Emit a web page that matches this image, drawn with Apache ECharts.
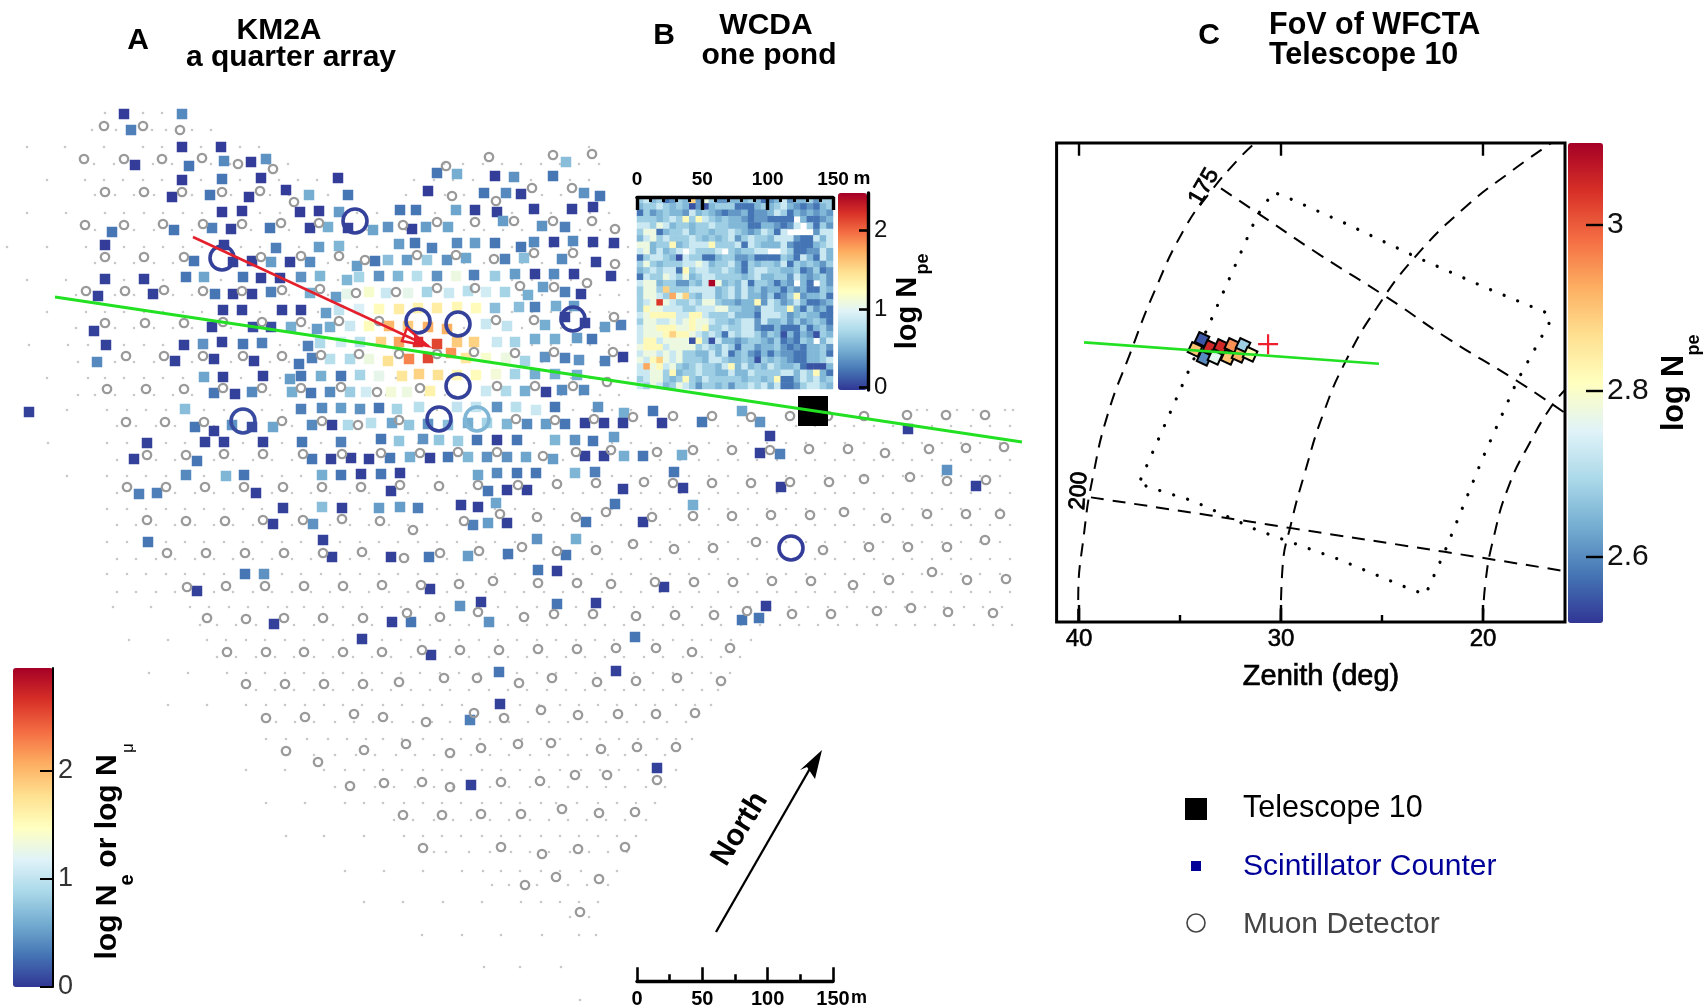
<!DOCTYPE html>
<html><head><meta charset="utf-8">
<script src="https://cdn.jsdelivr.net/npm/echarts@6/dist/echarts.min.js"></script>
<style>html,body{margin:0;padding:0;background:#fff}#c{width:1708px;height:1008px}</style></head>
<body><div id="c"></div>
<script>
// Map of the KM2A quarter array, in map units.
const northOdd=[95,115,134,154,173,192,212,231,251,270,289,309,328,348,367,386,406,425,445,464,484,503,522,542,561,580,600,619];
const northEven=[105,124,144,163,183,202,221,241,260,280,299,318,338,357,377,396,415,435,454,474,493,512,532,551,571,590,609,628];
const midEven=[107,127,146,166,185,204,224,243,262,282,301,321,340,360,379,398,418,437,457,476,495,515,534,554,573,592,612,631,651,670,689,709,728,748,767,786,806,825,845,864,883,903,922,942,961,980,1000];
const midOdd=[117,136,156,175,195,214,233,253,272,292,311,330,350,369,389,408,427,447,466,486,505,524,544,563,583,602,621,641,660,680,699,718,738,757,777,796,815,835,854,874,893,912,932,951,971,990,1010];
const idleRows=[
[113,[105,143,162]],
[130,[92,116,152,166,192,211]],
[147,[27,65,104,143,162,182,201,220,240,259,589]],
[164,[94,114,133,153,172,191,211,230,250,269,288,444,463,483,502,521,541,560,579,599]],
[180,[47,85,104,123,143,162,182,201,220,240,259,279,298,317,337,414,434,453,473,492,511,531,550,570,589]],
[195,[95,115,134,154,173,192,212,231,251,270,289,309,328,348,406,425,445,464,484,503,522,542,561,580,600]],
[213,[27,66,105,124,144,163,183,202,221,241,260,280,299,318,338,357,377,396,415,435,454,474,493,512,532,551,571,590,609]],
[230,northOdd],[247,[7,47,86],northEven],[263,northOdd],[280,[27,66],northEven],[295,[76],northOdd],
[312,[47,86],northEven],[328,[76],northOdd],[345,[29,68,88],northEven],[362,[78],northOdd],[378,[47,88],northEven],
[395,[78],northOdd],
[410,[67,107,127,146,166,185,204,224,243,262,282,301,321,340,360,379,398,418,437,457,476,495,515,534,554,573,592,612,631,651,917,927,957,973,1005,1013]],
[426,midOdd],[443,[48],midEven],[460,midOdd],[476,[67],midEven],[493,midOdd],[509,midEven],[525,midOdd],[542,midEven],[559,midOdd],[574,midEven],[592,midOdd],
[607,[113,151,190,209,229,248,268,287,304,323,343,362,382,401,420,440,459,479,498,517,537,556,576,595,614,634,653,673,692,711,731,750,770,789,808,828,847,867,886,905,925,944,964,983,1002]],
[625,[200,217,236,256,275,294,314,333,353,372,391,411,430,450,469,489,508,527,547,566,585,605,624,644,663,683,702,721,741,760,780,799,818,838,857,877,896,915,935,954,974,993,1012]],
[640,[129,168,207,226,246,265,285,304,323,343,362,382,401,420,440,459,479,498,517,537,556,576,595,614,634,653,673,692,711,731,751]],
[657,[217,236,256,275,294,314,333,353,372,391,411,430,450,469,489,508,527,547,566,585,605,624,644,663,683,702,721,740]],
[673,[149,188,227,246,265,285,304,323,343,362,382,401,420,440,459,479,498,517,537,556,576,595,614,634,653,673,692,711,730]],
[690,[256,275,294,314,333,353,372,391,411,430,450,469,489,508,527,547,566,585,605,624,644,663,683,702,718]],
[705,[168,207,246,266,285,305,324,343,362,383,402,423,442,462,520,539,560,579,598,617,636,655,676,695,711]],
[722,[276,295,314,335,354,373,392,413,432,450,490,509,528,549,568,587,606,627,644,667,686]],
[739,[266,286,307,328,347,366,383,402,423,442,461,480,501,522,541,560,581,600,619,638,657,676,692]],
[755,[314,335,356,375,396,415,434,453,471,490,509,530,549,568,587,608,625,646,665]],
[770,[246,285,324,345,364,383,402,423,442,461,482,501,520,539,560,581,600,619,638,676]],
[787,[335,354,375,394,415,434,453,490,509,530,549,568,587,606,625,646,665]],
[803,[266,305,345,364,383,404,423,442,461,482,501,520,541,556,577,598,617,636,655]],
[820,[394,413,434,453,471,490,509,530,549,568,587,606,625,646]],
[836,[286,324,364,404,423,442,461,482,501,520,541,560,579,598,617,636]],
[852,[434,446,469,490,511,530,549,570,589,608,627]],
[871,[345,384,423,462,483,501,520,541,560,581,617]],
[885,[492,509,537,568,587,608]],
[902,[364,403,443,482,521,541,560,579,598]],
[917,[570,589]],
[935,[422,462,501,542,579,596]],
[967,[484,520,561]],
[1000,[580]]
];
const muonIdle=[[104,126],[143,126],[180,130],[84,159],[124,159],[162,159],[202,158],[238,164],[273,169],[446,166],[489,157],[553,155],[592,154],
[105,192],[144,192],[182,192],[222,192],[260,191],[294,202],[452,196],[496,201],[532,188],[572,188],
[85,225],[124,225],[163,224],[203,224],[242,224],[281,223],[319,223],[403,225],[437,222],[475,222],[514,221],[553,221],[592,221],[615,229],
[105,257],[144,257],[184,257],[261,257],[301,256],[339,256],[365,260],[417,255],[456,255],[494,259],[534,253],[573,253],[615,264],
[86,291],[125,291],[164,290],[203,291],[242,291],[282,290],[320,289],[356,293],[396,292],[437,288],[475,288],[520,286],[554,287],[587,283],
[105,323],[145,323],[184,323],[223,322],[262,322],[301,322],[339,321],[379,321],[496,320],[534,320],[614,317],
[126,356],[164,356],[203,356],[243,356],[282,356],[321,355],[359,354],[399,354],[437,354],[474,352],[515,353],[554,352],[613,352],
[107,389],[146,389],[184,389],[223,388],[262,388],[301,388],[341,387],[377,392],[420,388],[497,386],[535,386],[573,386],[607,382],
[126,422],[165,422],[204,422],[282,421],[322,421],[358,425],[399,420],[516,419],[555,420],[594,419],[633,417],[673,416],[712,416],[751,417],[790,416],[828,416],[864,416],[907,415],[946,415],[985,415],
[147,455],[186,455],[224,454],[263,454],[303,454],[342,454],[381,453],[420,453],[458,452],[497,452],[543,456],[576,452],[611,450],[657,452],[693,450],[732,450],[770,450],[809,449],[848,449],[885,453],[929,449],[966,448],[1004,447],
[127,487],[166,487],[205,487],[244,487],[283,487],[322,487],[361,487],[400,485],[439,486],[478,485],[518,485],[557,484],[596,483],[644,482],[673,483],[712,483],[751,483],[790,482],[829,482],[864,479],[910,477],[947,481],[986,480],
[147,520],[186,521],[225,521],[263,520],[303,520],[342,519],[380,521],[413,530],[464,521],[500,514],[537,517],[576,517],[606,512],[652,517],[693,516],[732,516],[771,515],[810,515],[844,512],[886,518],[927,514],[966,514],[1000,514],
[167,553],[206,553],[245,553],[284,553],[323,553],[362,552],[404,558],[440,553],[479,551],[522,547],[557,551],[596,550],[633,544],[674,549],[713,548],[756,542],[823,550],[869,547],[908,547],[947,547],[985,540],
[187,587],[226,586],[265,586],[304,586],[343,586],[382,585],[421,585],[459,584],[493,581],[538,583],[577,583],[611,584],[655,582],[694,582],[733,582],[772,581],[811,581],[853,585],[889,580],[932,572],[967,580],[1006,579],
[207,618],[246,619],[284,618],[323,618],[363,618],[407,613],[440,617],[478,612],[524,617],[554,614],[593,614],[636,616],[675,615],[714,615],[747,611],[792,614],[831,614],[877,611],[911,608],[948,612],[993,613],
[227,652],[266,652],[304,652],[343,652],[382,652],[422,650],[460,650],[499,650],[538,649],[577,649],[616,648],[656,648],[692,652],[730,648],
[246,684],[285,684],[324,684],[363,684],[399,682],[444,678],[477,678],[519,683],[552,678],[597,682],[636,681],[677,678],[721,681],
[266,718],[305,717],[354,714],[383,717],[426,722],[474,713],[504,718],[541,710],[578,715],[618,714],[656,714],[695,713],
[286,751],[318,762],[364,750],[406,744],[450,753],[481,748],[518,744],[551,743],[601,749],[637,747],[676,747],
[350,786],[384,783],[422,782],[450,787],[501,782],[540,781],[575,775],[607,775],[657,780],
[403,815],[442,815],[481,814],[521,814],[562,809],[599,813],[635,812],
[423,848],[501,847],[542,854],[578,849],[625,847],
[525,885],[556,877],[599,879],[580,912]];
const muonHits=[[222,258,.05],[355,221,.05],[418,321,.05],[458,324,.05],[573,319,.05],[458,386,.05],[243,421,.1],[439,419,.05],[477,419,.65],[791,548,.03]];
const scintHits=[[124,114,.03],[182,114,.4],[131,130,.35],[182,147,.03],[221,147,.03],[135,165,.03],[189,166,.3],[224,161,.4],[251,162,.03],[266,159,.45],
[182,180,.03],[222,179,.3],[261,178,.03],[338,178,.03],[437,173,.3],[457,174,.6],[495,176,.03],[514,177,.45],[553,176,.3],[566,162,.7],
[172,197,.03],[210,195,.3],[249,197,.03],[286,190,.03],[309,195,.6],[348,195,.3],[428,191,.03],[484,193,.3],[506,193,.4],[521,194,.05],[584,193,.45],[600,196,.3],
[222,212,.03],[242,211,.03],[300,212,.03],[319,211,.03],[339,212,.5],[400,210,.3],[416,210,.3],[456,210,.55],[475,210,.05],[497,212,.05],[534,209,.05],[572,209,.05],[593,207,.05],
[112,232,.3],[174,230,.3],[212,228,.35],[231,229,.05],[270,228,.3],[310,228,.05],[328,227,.6],[348,228,.05],[373,230,.55],[388,227,.45],[412,229,.05],[426,227,.5],[448,227,.55],[503,221,.5],[542,226,.45],[565,227,.35],
[105,245,.03],[224,245,.05],[276,248,.35],[319,247,.5],[339,246,.65],[399,244,.5],[415,243,.3],[432,248,.35],[457,243,.4],[475,243,.5],[495,243,.3],[521,247,.3],[534,242,.4],[554,242,.05],[573,241,.4],[593,242,.05],[614,243,.05],
[194,261,.3],[233,262,.05],[252,261,.05],[271,262,.5],[290,262,.05],[310,262,.4],[357,266,.5],[375,261,.3],[388,260,.7],[407,260,.5],[427,260,.8],[447,260,.45],[466,258,.55],[505,259,.35],[524,258,.7],[562,259,.4],[596,262,.05],
[105,279,.05],[144,279,.05],[186,277,.3],[204,277,.55],[243,277,.3],[261,278,.05],[280,278,.05],[301,277,.45],[320,276,.65],[347,280,.65],[359,277,.85],[379,276,.45],[398,276,.65],[417,276,.95],[437,276,.45],[456,276,1.3],[474,275,.35],[495,276,.8],[515,274,.5],[535,274,.05],[554,274,.4],[574,274,.05],[611,276,.05],
[98,296,.05],[153,294,.05],[215,294,.3],[233,294,.05],[252,294,.05],[271,292,.35],[310,293,.6],[336,297,.5],[347,294,1.25],[369,292,1.4],[386,293,1.05],[408,293,1.25],[427,292,.85],[449,293,1.05],[468,291,.95],[486,292,1.1],[505,292,.85],[528,295,.6],[543,287,.5],[565,292,.35],[581,294,.05],
[223,310,.05],[242,310,.05],[282,310,.05],[301,310,.05],[326,313,.5],[339,310,1],[359,309,1.15],[379,309,1.5],[399,309,1.65],[418,308,1.6],[437,308,1.65],[457,307,1.55],[476,308,1.5],[495,308,.7],[519,307,.7],[535,307,.35],[556,306,.6],[574,306,.5],
[94,331,.05],[212,327,.05],[253,327,.1],[271,327,.1],[291,327,.6],[317,329,.5],[330,327,.6],[350,326,1.05],[369,326,1.5],[389,326,2],[408,326,1.9],[428,327,2.05],[447,329,2.05],[486,324,1.05],[507,326,1],[545,325,.6],[565,317,.05],[585,323,.05],[605,327,.5],[621,325,.35],
[106,345,.05],[184,345,.05],[203,344,.45],[222,342,.05],[243,344,.3],[262,343,.35],[308,346,.35],[320,343,.9],[341,342,1.1],[360,342,.95],[381,342,1.85],[399,342,2.1],[418,342,2.65],[437,344,2.55],[457,342,1.9],[474,342,1.85],[497,342,1.05],[515,342,.85],[535,339,.6],[555,339,.6],[577,338,.5],[592,339,.3],
[97,362,.4],[175,361,.05],[214,359,.05],[254,361,.05],[299,364,.3],[312,358,.35],[330,359,.95],[350,359,.9],[369,359,1.3],[388,361,1.75],[409,359,2.25],[428,358,2.55],[451,353,2.2],[466,358,1.7],[486,358,1.4],[506,358,1.3],[525,361,.85],[545,357,.45],[565,358,.35],[579,360,.45],[605,361,.35],[623,357,.05],
[204,377,.55],[223,377,.05],[263,376,.05],[290,379,.5],[301,376,.3],[321,376,.6],[341,376,.3],[360,375,.85],[379,376,1.25],[402,376,1.7],[419,374,1.85],[438,375,1.75],[457,375,1.55],[476,375,1.5],[496,374,1.35],[515,374,.85],[535,374,.6],[555,374,.6],[577,375,.6],
[214,393,.3],[235,394,.05],[252,392,.4],[292,392,.6],[311,393,.3],[330,392,.4],[350,392,.8],[366,392,1.1],[391,392,1.35],[407,392,1.3],[430,391,1.6],[486,391,1.05],[506,391,.9],[525,391,.6],[546,392,.05],[562,390,.4],[584,390,.4],
[29,412,.05],[185,409,.7],[301,409,.35],[322,408,.4],[341,408,.5],[360,409,.45],[379,408,.3],[397,409,.85],[419,407,.95],[457,407,1],[476,407,1],[497,407,.45],[516,407,.95],[536,410,1.05],[555,407,.3],[598,407,.45],[624,413,.6],[653,411,.3],[742,411,.55],
[195,427,.3],[214,431,.05],[232,425,.45],[252,427,.1],[273,427,.55],[312,425,.4],[332,425,.05],[348,425,.9],[371,423,.95],[392,423,.55],[409,425,.75],[428,424,.45],[448,425,.7],[468,423,.6],[487,423,.85],[507,424,.65],[527,424,.4],[546,424,.5],[565,424,.3],[585,423,.05],[604,423,.05],[623,423,.05],[662,423,.05],[702,422,.3],[760,422,.45],[908,429,.05],
[147,443,.05],[205,442,.05],[224,442,.05],[263,442,.05],[302,442,.3],[341,442,.35],[381,439,.3],[399,441,.75],[423,439,.45],[439,440,.75],[458,441,.8],[477,440,.3],[497,440,.05],[517,440,.3],[555,440,.65],[575,440,.45],[593,441,.3],[614,437,.5],[770,436,.05],
[134,459,.05],[197,461,.3],[312,459,.3],[331,459,.05],[351,458,.05],[369,459,.05],[390,458,.3],[410,457,.6],[430,458,.05],[448,457,.3],[468,457,.65],[487,457,.45],[507,457,.45],[526,457,.55],[553,459,.5],[585,456,.05],[604,456,.05],[624,456,.6],[643,456,.3],[682,455,.6],[760,453,.05],[780,454,.35],
[186,475,.4],[226,476,.65],[244,475,.3],[322,475,.6],[341,475,.3],[361,474,.05],[381,474,.3],[400,473,.05],[478,475,.55],[497,473,.4],[517,473,.3],[536,473,.3],[575,473,.65],[595,472,.35],[674,472,.3],[947,470,.45],
[139,494,.35],[157,493,.35],[256,493,.05],[391,491,.05],[488,491,.3],[507,490,.05],[527,490,.05],[623,489,.05],[683,488,.05],[781,487,.05],[976,486,.05],
[283,508,.05],[322,507,.7],[342,508,.05],[379,508,.5],[400,507,.5],[418,508,.35],[461,505,.05],[478,507,.05],[496,503,.55],[615,504,.3],[693,505,.6],
[273,524,.05],[313,524,.45],[473,525,.35],[488,523,.5],[507,523,.05],[586,522,.3],[643,522,.05],
[148,542,.3],[323,540,.05],[537,539,.45],[576,539,.6],
[332,557,.05],[391,557,.05],[429,557,.3],[468,556,.5],[508,554,.3],[566,555,.3],
[245,574,.3],[264,574,.45],[538,570,.3],[557,571,.05],
[664,587,.05],[197,591,.05],[430,589,.05],
[460,606,.45],[481,602,.05],[557,604,.3],[596,603,.05],[766,606,.05],
[274,624,.05],[392,622,.05],[411,622,.3],[489,622,.45],[742,620,.3],[759,618,.3],
[362,639,.05],[635,637,.3],[431,655,.05],[499,672,.3],[616,671,.05],[500,704,.05],[470,720,.35],[657,768,.05],[471,785,.05]];
const telescopeSite=[[813,411]];
const showerAxis=[[55,297],[1022,442]];
const coreArrow=[[193,237],[428,346]];
const coreHeadOutline=[[428,346],[402,341],[407,328]];
const coreHeadFill=[[428,346],[414,335],[414,345]];
const northShaft=[[716,932],[812,765]];
const northHead=[[822,750],[800,770],[807,767],[815,779]];

// WCDA one pond: 30 x 30 cells, hexadecimal index into pondLevels (log Npe); '.' means no cell
const pondLevels=[.08,.22,.38,.53,.66,.87,1.08,1.27,1.55,1.75,2,2.2,2.45];
const pondRows=[
"453412438264223334312352334244",
"344543430203444111343453212134",
"142343325343212231223541323232",
"444345474754343321221111.31123",
"5546534434454433311332125.4142",
"46613445344344543235415....255",
"356454445434345245443555211535",
"663447345557444515433352111345",
"5635345.54445.434455..54112253",
"145543054411344223111143153153",
"464344455653445314344351434324",
"345455174554454314554433412412",
"154465463455444434533442532342",
"56634422435C634351443132.31.42",
"466484445555345353423313231143",
"466549684355345353324124723341",
"456B65445466433233725423531123",
"476655544555664433255447314231",
"567777557754445333155542343311",
"466556567665443455253342423431",
"566777667674454455211311141342",
"566678776545415455424303132043",
"577566660740533234432412143.35",
"677756666454354144233421213342",
"566565644335351342131322113341",
"657865644435543343043432113345",
"596756434544357353435433410003",
"556647344544335335444455354731",
"456643474354444434434711354534",
"546534654244342445453511245543"];

// Panel C, zenith in degrees on x and a camera-frame offset in degrees on y
const arcFar=[[40.04,0],[40.04,.96],[39.73,4.58],[39.3,7.29],[38.57,10.36],[37.51,13.25],[36.24,16.51],[34.77,19.58],[33.5,21.39],[32.03,23.11],[31.29,23.83]];
const arcMid=[[30.02,0],[29.92,2.77],[29.49,4.94],[28.86,7.29],[27.91,10.36],[26.75,13.07],[25.27,15.61],[23.38,18.14],[20.84,20.67],[18.52,22.48],[16.62,23.83]];
const arcNear=[[20,0],[19.89,1.86],[19.47,4.21],[18.73,6.75],[17.68,8.92],[16.62,10.72],[15.94,11.54]];
const azimuth200=[[39.41,6.2],[33.5,5.3],[29.49,4.67],[21.9,3.49],[15.94,2.53]];
const azimuth175=[[32.97,21.57],[30.97,20.22],[28.02,18.23],[24.75,16.15],[21.69,14.07],[18.31,11.99],[15.94,10.4]];
const fovOutline=[[36.94,7.11],[31.18,20.22],[30.38,21.39],[29.49,21.03],[26.75,19.8],[23.27,18.14],[19.79,16.6],[16.94,15.42],[16.62,15.06],[18.31,11.99],[20,8.19],[21.9,3.49],[22.85,1.36],[23.8,1.72],[27.17,3.13],[31.18,4.57],[34.35,6.02],[36.67,6.75],[36.94,7.11]];
const fovAxis=[[39.75,13.91],[25.15,12.85]];
const fovCore=[[30.64,13.82]];
const wfctaPixels=[[33.91,14.06,2.55],[33.51,13.66,3.05],[32.97,13.71,3.05],[32.43,13.76,2.95],[31.88,13.76,2.68],[34.26,13.56,2.9],[33.81,13.12,2.6],[33.27,13.17,2.76],[32.62,13.17,2.9],[32.08,13.27,2.92],[31.53,13.32,2.82]];
const frameTicks=[[[40,23.83],[40,23.2]],[[30,23.83],[30,23.2]],[[20,23.83],[20,23.2]],[[35,0],[35,.35]],[[25,0],[25,.35]],[[40,0],[40,.7]],[[30,0],[30,.7]],[[20,0],[20,.7]]];

// Tick marks
const zenithMajor=[20,30,40];
const pondMajor=[0,50,100,150], pondMinor=[10,20,30,40,60,70,80,90,110,120,130,140];
const barMajor=[0,50,100,150], barMinor=[25,75,125];
const palette=['#313695','#4575b4','#74add1','#abd9e9','#e0f3f8','#ffffbf','#fee090','#fdae61','#f46d43','#d73027','#a50026'];

const FONT='"Liberation Sans",Arial,sans-serif';
const idleDots=[];
idleRows.forEach(r=>{const y=r[0];r.slice(1).forEach(l=>l.forEach(x=>idleDots.push([x,y])));});
const pondCells=[];
pondRows.forEach((row,r)=>{for(let c=0;c<row.length;c++){if(row[c]!=='.')pondCells.push([c,r,pondLevels[parseInt(row[c],16)]]);}});
const pondIdx=pondRows.map((_,i)=>String(i));

const poly=(name,pts,style,z)=>({type:'custom',name,coordinateSystem:'cartesian2d',xAxisIndex:0,yAxisIndex:0,z,
  data:pts,encode:{x:0,y:1},clip:false,silent:true,
  renderItem:(p,api)=>p.dataIndex?null:{type:'polygon',shape:{points:pts.map(v=>api.coord(v))},style}});
const zenLine=(name,data,ls,extra)=>Object.assign({type:'line',name,xAxisIndex:6,yAxisIndex:4,data,symbol:'none',lineStyle:ls,z:3,silent:true},extra||{});
const dash={color:'#000',width:2,type:[13,9]};

const series=[
 {type:'scatter',name:'Scintillator Counter',xAxisIndex:0,yAxisIndex:0,data:scintHits,symbol:'rect',symbolSize:10.5,z:3,silent:true,itemStyle:{opacity:1}}, //0
 {type:'custom',name:'Muon hits',coordinateSystem:'cartesian2d',xAxisIndex:0,yAxisIndex:0,data:muonHits,encode:{x:0,y:1},z:6,silent:true, //1
  renderItem:(p,api)=>{const c=api.coord([api.value(0),api.value(1)]);return{type:'circle',shape:{cx:c[0],cy:c[1],r:12},style:{fill:'none',stroke:api.visual('color'),lineWidth:3.6}};}},
 {type:'heatmap',name:'WCDA',xAxisIndex:1,yAxisIndex:1,data:pondCells,z:4,silent:true,itemStyle:{borderWidth:0}}, //2
 {type:'scatter',name:'WFCTA pixels',xAxisIndex:6,yAxisIndex:4,data:wfctaPixels,symbol:'rect',symbolSize:11,symbolRotate:-25,z:4,silent:true,itemStyle:{opacity:1,borderColor:'#000',borderWidth:2}}, //3
 {type:'scatter',name:'Detectors idle',xAxisIndex:0,yAxisIndex:0,data:idleDots,symbol:'circle',symbolSize:2.6,itemStyle:{opacity:1,color:'#c8c8c8'},z:2,silent:true},
 {type:'scatter',name:'Muon Detector',xAxisIndex:0,yAxisIndex:0,data:muonIdle,symbol:'circle',symbolSize:8.4,itemStyle:{opacity:1,color:'rgba(255,255,255,0)',borderColor:'#9a9a9a',borderWidth:2.3},z:5,silent:true},
 {type:'scatter',name:'Telescope 10',xAxisIndex:0,yAxisIndex:0,data:telescopeSite,symbol:'rect',symbolSize:30,itemStyle:{opacity:1,color:'#000'},z:5,silent:true},
 {type:'line',name:'Shower axis',xAxisIndex:0,yAxisIndex:0,data:showerAxis,symbol:'none',lineStyle:{color:'#22e022',width:3},z:8,silent:true},
 {type:'line',name:'Core arrow',xAxisIndex:0,yAxisIndex:0,data:coreArrow,symbol:'none',lineStyle:{color:'#e4202c',width:2.5},z:7,silent:true},
 poly('Core head',coreHeadOutline,{fill:'#fff',stroke:'#e4202c',lineWidth:2.5},7),
 poly('Core head fill',coreHeadFill,{fill:'#e4202c'},7),
 {type:'line',name:'North',xAxisIndex:0,yAxisIndex:0,data:northShaft,symbol:'none',lineStyle:{color:'#000',width:2.3},z:7,silent:true},
 poly('North head',northHead,{fill:'#000'},7),
 zenLine('arc far',arcFar,dash,{smooth:true}),
 zenLine('arc mid',arcMid,dash,{smooth:true}),
 zenLine('arc near',arcNear,dash,{smooth:true}),
 zenLine('azimuth 200',azimuth200,dash,{smooth:true}),
 zenLine('azimuth 175',azimuth175,dash,{smooth:true}),
 zenLine('FoV',fovOutline,{color:'#000',width:3.2,type:[.1,14.5],cap:'round'}),
 zenLine('FoV axis',fovAxis,{color:'#22e022',width:2.6},{z:6}),
 {type:'scatter',name:'FoV core',xAxisIndex:6,yAxisIndex:4,data:fovCore,symbol:'path://M0 10H20M10 0V20',symbolSize:20,z:7,silent:true,itemStyle:{opacity:1,color:'rgba(0,0,0,0)',borderColor:'#ee2030',borderWidth:2.2}}
].concat(frameTicks.map((seg,i)=>zenLine('frame tick '+i,seg,{color:'#000',width:2.4},{z:5})));

const hideX=(g)=>({type:'value',gridIndex:g,min:0,max:1,show:false});
const hideY=(g)=>({type:'value',gridIndex:g,min:0,max:1,show:false});
const noSplit={show:false};
const tickAxis=(g,min,max,pos,vals,len,width,labels,extra)=>Object.assign({
  type:'value',gridIndex:g,z:10,min,max,position:pos,splitLine:noSplit,
  axisLine:{show:false},
  axisTick:{show:true,inside:true,length:len,customValues:vals,lineStyle:{color:'#000',width}},
  axisLabel:labels?labels:{show:false}
},extra||{});
const barLabel={show:true,customValues:barMajor,margin:8,color:'#000',fontFamily:FONT,fontWeight:'bold',fontSize:20};

const cbY=(g,min,max,vals,fs,len,lineW,col,line,tw,margin,pad)=>({
  type:'value',gridIndex:g,z:10,min,max,position:'right',splitLine:noSplit,
  axisLine:{show:line,onZero:false,lineStyle:{color:'#000',width:lineW}},
  axisTick:{show:true,inside:true,length:len,customValues:vals,lineStyle:{color:'#000',width:tw}},
  axisLabel:{show:true,customValues:vals,color:col,fontFamily:FONT,fontSize:fs,margin,padding:pad||0,formatter:v=>String(v)}
});
const vm=(idx,min,max,left,top,w,h)=>({type:'continuous',seriesIndex:idx,dimension:2,min,max,left,top,itemWidth:w,itemHeight:h,padding:0,
  text:null,showLabel:false,calculable:false,realtime:false,hoverLink:false,inRange:{color:palette},orient:'vertical',borderWidth:0});

const txt=(text,x,y,size,opt)=>{opt=opt||{};return{type:'text',x,y,rotation:opt.rot||0,z:20,silent:true,
  style:{text,fill:opt.fill||'#000',font:(opt.bold===false?'':'bold ')+size+'px '+FONT,align:opt.align||'center',verticalAlign:'middle',
  lineWidth:opt.sw||0,stroke:opt.sw?(opt.fill||'#000'):null}};};
const R=Math.PI/2;
const graphic=[
 txt('A',138,41,30),txt('KM2A',279,31,30),txt('a quarter array',291,58,30),
 txt('B',664,36,30),txt('WCDA',766,26,30),txt('one pond',769,56,30),
 txt('C',1209,36,30),txt('FoV of WFCTA',1269,26,30.5,{align:'left'}),txt('Telescope 10',1269,56,30.5,{align:'left'}),
 txt('North',740,829,30,{rot:1.02}),
 txt('m',862,179,19),txt('m',859,998,18),
 txt('log N',908,313,29,{rot:R}),txt('pe',923,264,18,{rot:R}),
 txt('log N',1675,393,30.5,{rot:R}),txt('pe',1694,345,18,{rot:R}),
 txt('log N',108,922,30,{rot:R}),txt('e',127,880,20,{rot:R}),
 txt('or log N',108,811,30,{rot:R}),txt('\u03bc',128,748,17,{rot:R,bold:false}),
 txt('Zenith (deg)',1321,677,29,{bold:false,sw:.7}),
 txt('175',1204,187,23,{rot:1.05,bold:false,sw:.8}),
 txt('200',1079,491,23,{rot:1.5,bold:false,sw:.8}),
 {type:'rect',z:20,silent:true,shape:{x:1185,y:798,width:22,height:22},style:{fill:'#000'}},
 {type:'rect',z:20,silent:true,shape:{x:1191,y:861,width:10,height:10},style:{fill:'#000099'}},
 {type:'circle',z:20,silent:true,shape:{cx:1196,cy:923,r:9},style:{fill:'none',stroke:'#444',lineWidth:1.6}},
 txt('Telescope 10',1243,809,30.5,{bold:false,align:'left'}),
 txt('Scintillator Counter',1243,867,30,{bold:false,align:'left',fill:'#000099'}),
 txt('Muon Detector',1243,925,30,{bold:false,align:'left',fill:'#444'})
];

const option={
 animation:false,backgroundColor:'#fff',
 grid:[
  {left:0,top:0,width:1030,height:1008},          //0 map
  {left:637,top:197,width:196,height:192},        //1 pond
  {left:637,top:196,width:196,height:1},          //2 pond scale
  {left:637,top:981,width:196,height:1},          //3 bar
  {left:1056.6,top:143,width:508.4,height:479,show:true,borderColor:'#000',borderWidth:3,backgroundColor:'transparent'}, //4 FoV
  {left:13,top:668,width:40,height:319},          //5
  {left:838,top:193,width:30,height:197},         //6
  {left:1568,top:143,width:35,height:480}         //7
 ],
 xAxis:[
  {type:'value',gridIndex:0,min:0,max:1030,show:false},
  {type:'category',gridIndex:1,data:pondIdx,show:false},
  tickAxis(2,0,150,'top',pondMajor,13,3.4,{show:true,customValues:pondMajor,margin:7,color:'#000',fontFamily:FONT,fontWeight:'bold',fontSize:19},{axisLine:{show:true,lineStyle:{color:'#000',width:3.4}}}),
  tickAxis(2,0,150,'top',pondMinor,6,3,null),
  tickAxis(3,0,150,'bottom',barMajor,14,2.6,barLabel,{axisLine:{show:true,lineStyle:{color:'#000',width:3.4}}}),
  tickAxis(3,0,150,'bottom',barMinor,7,2.6,null),
  tickAxis(4,15.94,41.11,'bottom',zenithMajor,17,2.4,{show:true,customValues:zenithMajor,margin:5,color:'#000',fontFamily:FONT,fontSize:24,textBorderColor:'#000',textBorderWidth:.6},{inverse:true}),
  hideX(5),hideX(6),hideX(7)
 ],
 yAxis:[
  {type:'value',gridIndex:0,min:0,max:1008,inverse:true,show:false},
  {type:'category',gridIndex:1,data:pondIdx,inverse:true,show:false},
  hideY(2),hideY(3),
  {type:'value',gridIndex:4,min:0,max:23.83,show:false},
  cbY(5,0,2.95,[0,1,2],27,13,2,'#333',true,2,5,[5,0,0,0]),
  cbY(6,-.03,2.48,[0,1,2],24,9,3.4,'#111',true,2.6,6),
  cbY(7,2.52,3.098,[2.6,2.8,3],30,17,2,'#111',false,2.4,4)
 ],
 visualMap:[
  vm([0,1],0,2.95,13,668,40,319),
  vm([2],-.03,2.48,838,193,29,197),
  vm([3],2.52,3.098,1568,143,35,480)
 ],
 series,graphic
};
echarts.init(document.getElementById('c'),null,{renderer:'canvas'}).setOption(option);
</script></body></html>
